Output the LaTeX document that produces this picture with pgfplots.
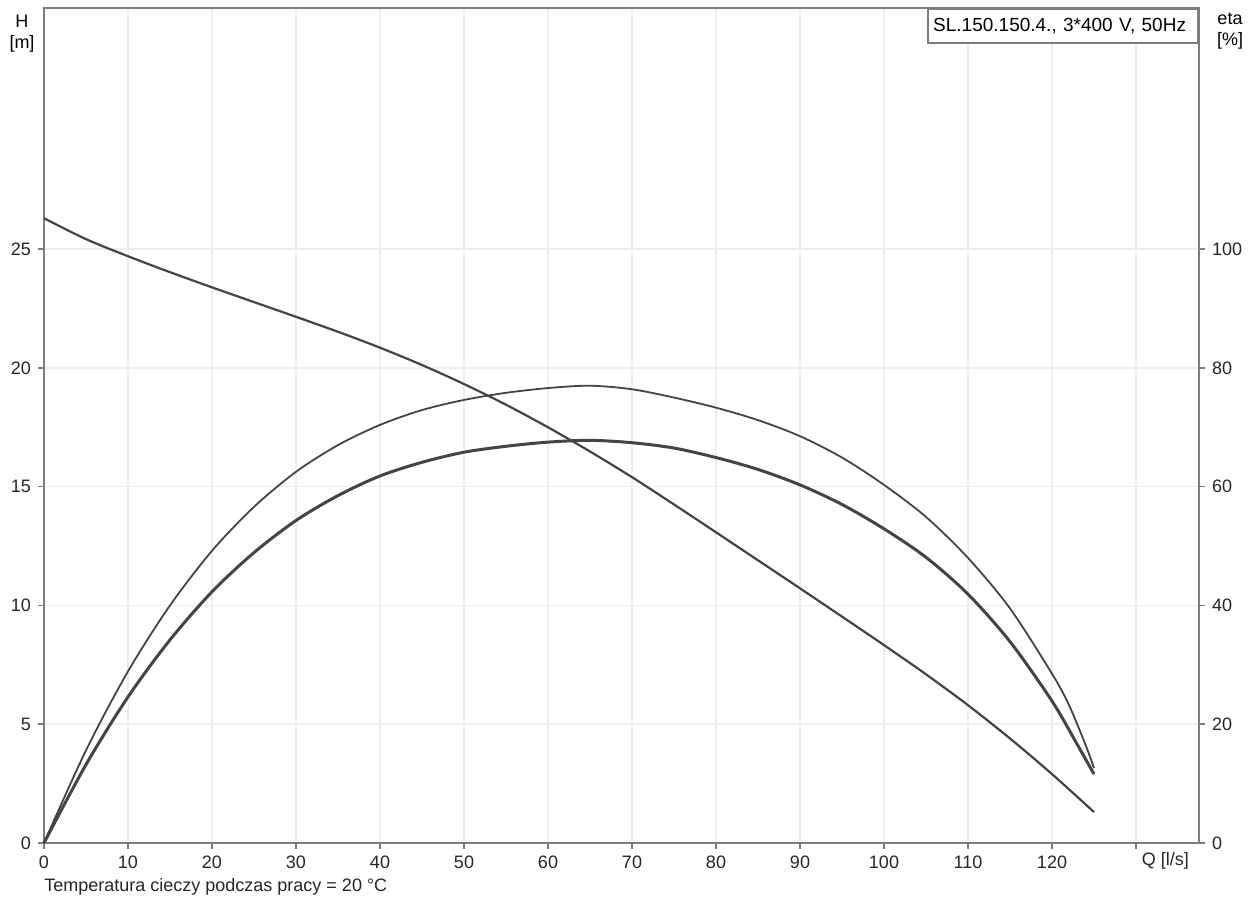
\documentclass[border=0pt]{standalone}
\usepackage{pgfplots}
\pgfplotsset{compat=1.18}
\usepackage{fontspec}
\setmainfont{Liberation Sans}

\definecolor{crv}{RGB}{68,68,68}
\definecolor{axl}{RGB}{125,125,125}
\definecolor{grd}{RGB}{238,238,238}

\pgfplotsset{
  base/.style={
    scale only axis, width=577.5pt, height=417.5pt,
    at={(0,0)}, anchor=south west,
    xmin=0, xmax=137.5, clip=false,
    axis line style={axl, line width=1pt},
    tick style={axl, line width=0.8pt},
    major tick length=3pt, tick align=outside,
    tick label style={font=\fontsize{9}{10}\selectfont, text=black!85},
    /pgf/number format/assume math mode=true,
  }
}

\begin{document}
\begin{tikzpicture}
\useasboundingbox (-22pt,-30pt) rectangle (605pt,421.5pt);
% H curve, left axis
\begin{axis}[base,
  ymin=0, ymax=35.15,
  xtick={0,10,...,130},
  xticklabels={0,10,20,30,40,50,60,70,80,90,100,110,120,{}},
  ytick={0,5,...,25},
  xtick pos=lower, ytick pos=left,
  grid=major, major grid style={grd, line width=0.8pt},
]
\addplot[crv, line width=1.1pt, smooth] coordinates {
  (0,26.3) (5,25.42) (10,24.7) (15,24.03) (20,23.39) (25,22.77) (30,22.15)
  (35,21.52) (40,20.85) (45,20.12) (50,19.32) (55,18.45) (60,17.5) (65,16.48)
  (70,15.4) (75,14.25) (80,13.08) (85,11.9) (90,10.72) (95,9.53) (100,8.33)
  (105,7.1) (110,5.8) (115,4.4) (120,2.9) (125,1.3)};
\node[anchor=north, align=center, inner sep=0, font=\fontsize{9}{10.5}\selectfont]
  at (rel axis cs:0,1) [xshift=-11pt, yshift=-3.5pt] {H\\{[m]}};
\node[anchor=north, align=center, inner sep=0, font=\fontsize{9}{10.5}\selectfont]
  at (rel axis cs:1,1) [xshift=15.5pt, yshift=-2pt] {eta\\{[\%]}};
\node[draw=axl, line width=0.8pt, fill=white, anchor=north east,
  minimum width=135pt, minimum height=17pt, text width=130pt, align=left,
  inner sep=2pt, font=\fontsize{9.5}{11}\selectfont]
  at (rel axis cs:1,1) {SL.150.150.4., 3*400 V, 50Hz};
\node[anchor=north, font=\fontsize{9}{10}\selectfont, text=black!85]
  at (axis cs:133.5,0) [yshift=-1pt] {Q [l/s]};
\node[anchor=west, inner sep=0, font=\fontsize{9}{10}\selectfont, text=black!85]
  at (rel axis cs:0,0) [yshift=-22pt] {Temperatura cieczy podczas pracy = 20 °C};
\end{axis}
% efficiency curves, right axis
\begin{axis}[base,
  ymin=0, ymax=140.6,
  ytick={0,20,...,100},
  axis y line*=right, axis x line=none,
]
\addplot[crv, line width=0.9pt, smooth] coordinates {
  (0,0) (5,15.6) (10,28.9) (15,40.0) (20,49.2) (25,56.6) (30,62.5) (35,67.0)
  (40,70.4) (45,72.9) (50,74.6) (55,75.8) (60,76.6) (65,77.0)
  (70,76.4) (75,75.0) (80,73.3) (85,71.2) (90,68.5) (95,64.9) (100,60.3)
  (105,54.9) (110,48.0) (115,39.5) (120,28.5) (122,23.3) (124,16.5)
  (125,12.6)};
\addplot[crv, line width=1.5pt, smooth] coordinates {
  (0,0) (5,13.2) (10,24.6) (15,34.2) (20,42.3) (25,48.9) (30,54.3) (35,58.5)
  (40,61.8) (45,64.1) (50,65.8) (55,66.8) (60,67.5) (65,67.8) (70,67.4)
  (75,66.5) (80,64.9) (85,62.9) (90,60.3) (95,57.0) (100,52.9) (105,48.1)
  (110,41.9) (115,33.9) (120,23.9) (123,16.6) (125,11.6)};
\end{axis}
\end{tikzpicture}
\end{document}
